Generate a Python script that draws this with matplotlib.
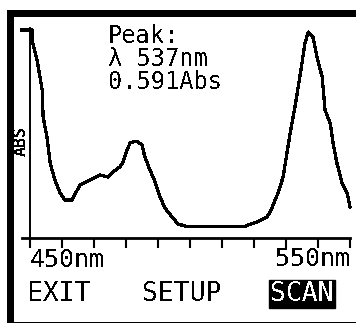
import matplotlib
matplotlib.use("Agg")
import matplotlib.pyplot as plt
from matplotlib.patches import Rectangle
from matplotlib.transforms import blended_transform_factory

# absorbance scan (nm, Abs)
wavelength = [447.5, 450.6, 450.9, 452.2, 453.8, 454.1, 455.3, 456.3, 457.8, 459.4,
              460.9, 463.1, 465.6, 468.8, 471.9, 474.4, 475.9, 478.1, 479.1, 480.3,
              481.3, 483.4, 485.0, 485.9, 487.5, 489.1, 490.6, 492.2, 494.4, 496.3,
              499.4, 516.6, 520.9, 524.1, 525.6, 527.5, 529.1, 530.3, 531.3, 532.8,
              533.8, 535.0, 535.9, 536.9, 537.0, 538.4, 539.7, 541.3, 542.2, 543.8,
              544.7, 545.9, 547.5, 549.1, 550.0]
absorbance = [0.597, 0.597, 0.559, 0.511, 0.425, 0.347, 0.290, 0.215, 0.166, 0.129,
              0.109, 0.109, 0.152, 0.166, 0.181, 0.175, 0.189, 0.204, 0.218, 0.252,
              0.273, 0.278, 0.267, 0.232, 0.195, 0.161, 0.118, 0.086, 0.060, 0.040,
              0.032, 0.032, 0.046, 0.060, 0.086, 0.129, 0.175, 0.244, 0.301, 0.376,
              0.433, 0.502, 0.559, 0.588, 0.591, 0.577, 0.519, 0.462, 0.367, 0.330,
              0.273, 0.215, 0.158, 0.129, 0.089]
tick_nm = list(range(450, 551, 10))
peak_nm = 537
peak_abs = 0.591
menu = ["EXIT", "SETUP", "SCAN"]

W, H = 356, 323
plt.rcParams["text.antialiased"] = False
mono = "DejaVu Sans Mono"

fig = plt.figure(figsize=(W / 100, H / 100), dpi=100)
fig.patch.set_facecolor("white")


def px(x, y):
    return x / W, 1 - y / H


# screen bezel: thick top and left edges, thin bottom edge
fig.add_artist(Rectangle(px(7, 17), (W - 7) / W, 7 / H, transform=fig.transFigure,
                         color="black", lw=0))
fig.add_artist(Rectangle(px(7, H), 7 / W, (H - 10) / H, transform=fig.transFigure,
                         color="black", lw=0))
fig.add_artist(Rectangle(px(14, 323), (W - 14) / W, 1.5 / H, transform=fig.transFigure,
                         color="black", lw=0))

ax = fig.add_axes([22 / W, (H - 238) / H, 328 / W, 210 / H])
ax.set_xlim(447.5, 550)
ax.set_ylim(0, 0.6025)
ax.plot(wavelength, absorbance, color="black", lw=1.6, antialiased=False, clip_on=False)

for side in ("top", "right"):
    ax.spines[side].set_visible(False)
ax.spines["left"].set_position(("data", 450))
ax.spines["left"].set_linewidth(1.4)
ax.spines["bottom"].set_linewidth(2.0)
ax.set_xticks(tick_nm)
ax.set_yticks([])
ax.tick_params(axis="x", direction="out", length=7, width=1.5, labelbottom=False)
ax.set_facecolor("none")

trans = blended_transform_factory(ax.transData, fig.transFigure)
ax.text(tick_nm[0], 1 - 260 / H, f"{tick_nm[0]}nm", transform=trans, ha="left",
        va="center", family=mono, fontsize=18)
ax.text(tick_nm[-1], 1 - 259 / H, f"{tick_nm[-1]}nm", transform=trans, ha="right",
        va="center", family=mono, fontsize=18)

fig.text(*px(21, 141), "ABS", rotation=90, ha="center", va="center",
         family=mono, fontsize=12, fontweight="bold")

# peak readout block
fig.text(*px(108, 59), f"Peak:\nλ {peak_nm}nm\n{peak_abs:.3f}Abs", ha="left",
         va="center", family=mono, fontsize=17, linespacing=0.95)

# soft-key menu along the bottom
fig.text(*px(28, 294), menu[0], ha="left", va="center", family=mono, fontsize=19)
fig.text(*px(182, 294), menu[1], ha="center", va="center", family=mono, fontsize=19)
fig.text(*px(302, 294), menu[2], ha="center", va="center", family=mono, fontsize=19,
         color="white",
         bbox=dict(boxstyle="square,pad=0.05", facecolor="black", edgecolor="black"))

fig.savefig("out.png", dpi=100)
